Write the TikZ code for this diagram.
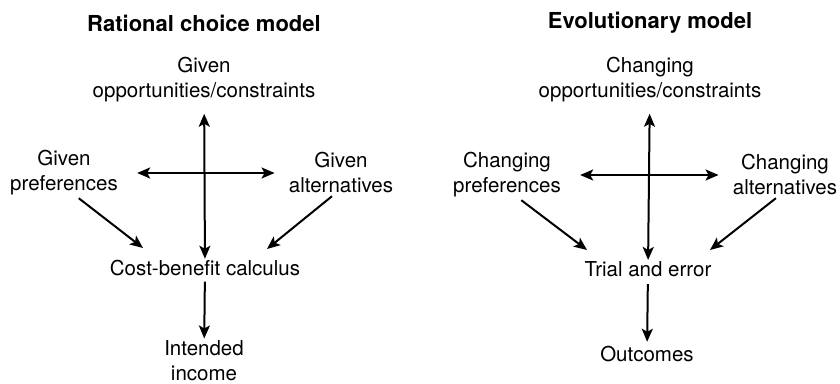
\documentclass[tikz,border=0pt]{standalone}
\usepackage{fontspec}
\setmainfont{TeX Gyre Heros}
\usetikzlibrary{arrows.meta}
\tikzset{term/.style={align=center, inner sep=0pt, font=\fontsize{10.25}{12.5}\selectfont}}
\tikzset{heading/.style={inner sep=0pt, font=\fontsize{11}{13}\selectfont\bfseries}}
\tikzset{link/.style={-{Stealth[length=6.5pt, width=5.5pt, inset=1.5pt]}, line width=1pt}}
\tikzset{twoway/.style={{Stealth[length=6.5pt, width=5.5pt, inset=1.5pt]}-{Stealth[length=6.5pt, width=5.5pt, inset=1.5pt]}, line width=1pt}}

\begin{document}
\begin{tikzpicture}[x=0.5pt, y=-0.5pt]
  \useasboundingbox (0, 0) rectangle (840, 384);
  % rational choice model
  \node[heading] (titleL) at (204, 23) {Rational choice model};
  \node[term] (oppL) at (204, 80) {Given\\opportunities/constraints};
  \node[term] (prefL) at (64, 173) {Given\\preferences};
  \node[term] (altL) at (341, 173) {Given\\alternatives};
  \node[term] (cbc) at (205, 268) {Cost-benefit calculus};
  \node[term] (income) at (204, 361) {Intended\\income};
  \coordinate (cbcL) at (143, 248);
  \coordinate (cbcR) at (267, 249);
  \draw[twoway, shorten <=5.5pt, shorten >=0.5pt] (oppL) -- (cbc);
  \draw[twoway, shorten <=9.5pt, shorten >=7pt] (prefL) -- (altL);
  \draw[link, shorten <=2pt] (prefL.-63) -- (cbcL);
  \draw[link, shorten <=2pt] (altL.-106) -- (cbcR);
  \draw[link, shorten <=2.75pt, shorten >=1pt] (cbc) -- (income);
  % evolutionary model
  \node[heading] (titleR) at (650, 23) {Evolutionary model};
  \node[term] (oppR) at (650, 80) {Changing\\opportunities/constraints};
  \node[term] (prefR) at (507, 175) {Changing\\preferences};
  \node[term] (altR) at (785, 175) {Changing\\alternatives};
  \node[term] (trial) at (648, 269) {Trial and error};
  \node[term] (outcomes) at (647, 354) {Outcomes};
  \coordinate (trialL) at (587, 250);
  \coordinate (trialR) at (710, 250);
  \draw[twoway, shorten <=5.5pt, shorten >=0.5pt] (oppR) -- (trial);
  \draw[twoway, shorten <=9.5pt, shorten >=7pt] (prefR) -- (altR);
  \draw[link, shorten <=2pt] (prefR.-64) -- (trialL);
  \draw[link, shorten <=2pt] (altR.-106) -- (trialR);
  \draw[link, shorten <=3.5pt, shorten >=2pt] (trial) -- (outcomes);
\end{tikzpicture}
\end{document}
